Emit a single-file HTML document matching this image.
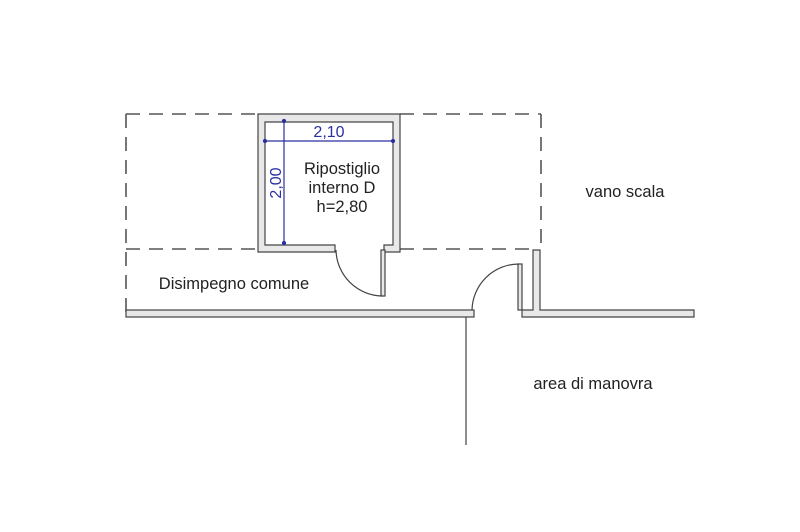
<!DOCTYPE html>
<html><head><meta charset="utf-8"><style>
html,body{margin:0;padding:0;background:#fff;width:800px;height:532px;overflow:hidden}
</style></head><body>
<svg width="800" height="532" viewBox="0 0 800 532" xmlns="http://www.w3.org/2000/svg" font-family="Liberation Sans, sans-serif">
<rect width="800" height="532" fill="#fff"/>
<g stroke="#555" stroke-width="1.6" fill="none" stroke-dasharray="14,9">
<line x1="126" y1="114" x2="258" y2="114"/>
<line x1="400" y1="114" x2="541" y2="114"/>
<line x1="126" y1="114" x2="126" y2="312"/>
<line x1="541" y1="114" x2="541" y2="250"/>
<line x1="126" y1="249" x2="258" y2="249"/>
<line x1="400" y1="249" x2="534" y2="249"/>
</g>
<g stroke="#444" stroke-width="1.2" fill="#e8e8e8">
<path d="M258 114 H400 V252 H384 V245 H393 V122 H265 V245 H335 V252 H258 Z"/>
<rect x="126" y="310" width="348" height="7"/>
<path d="M533 250 H540 V310 H694 V317 H522 V310 H533 Z"/>
<rect x="381" y="250" width="4" height="46"/>
<rect x="518" y="264" width="4" height="46"/>
</g>
<g stroke="#444" stroke-width="1.2" fill="none">
<path d="M336 250 A47 47 0 0 0 383 296"/>
<path d="M472 310 A47 47 0 0 1 519 264"/>
<line x1="466" y1="317" x2="466" y2="445"/>
</g>
<g stroke="#2b2fa0" stroke-width="1.2" fill="#2b2fa0">
<line x1="265" y1="141" x2="393" y2="141"/>
<line x1="284" y1="121" x2="284" y2="243"/>
<circle cx="265" cy="141" r="1.5"/><circle cx="393" cy="141" r="1.5"/>
<circle cx="284" cy="121" r="1.5"/><circle cx="284" cy="243" r="1.5"/>
</g>
<g fill="#2b2fa0" font-size="16">
<text x="329" y="137" text-anchor="middle">2,10</text>
<text transform="translate(281,183) rotate(-90)" text-anchor="middle">2,00</text>
</g>
<g fill="#222" font-size="16.5" text-anchor="middle">
<text x="342" y="174">Ripostiglio</text>
<text x="342" y="193">interno D</text>
<text x="342" y="212">h=2,80</text>
<text x="625" y="197">vano scala</text>
<text x="234" y="289">Disimpegno comune</text>
<text x="593" y="389">area di manovra</text>
</g>
</svg>
</body></html>
